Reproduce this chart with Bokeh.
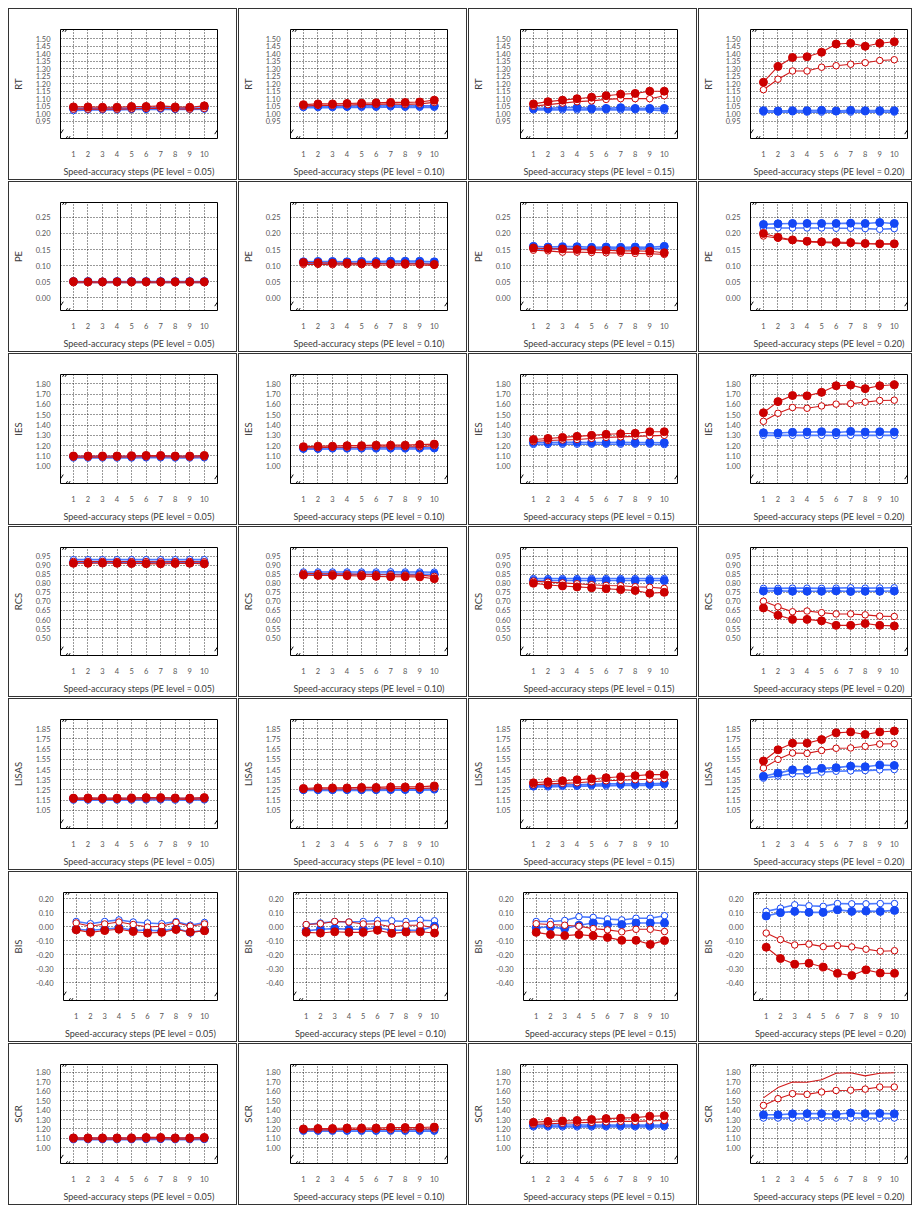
from bokeh.plotting import figure
from bokeh.layouts import row, column
from bokeh.models import FixedTicker, PrintfTickFormatter, Range1d, Arrow
from bokeh.embed import file_html
from bokeh.resources import INLINE

STEPS = [1, 2, 3, 4, 5, 6, 7, 8, 9, 10]
PE_LEVELS = ["0.05", "0.10", "0.15", "0.20"]
METRICS = ["RT", "PE", "IES", "RCS", "LISAS", "BIS", "SCR"]

# ---- data: each list holds the four PE-level panels (0.05, 0.10, 0.15, 0.20) ----
# BF = blue filled, BO = blue open, RF = red filled, RO = red open
RT_BF = [[1.035, 1.035, 1.035, 1.035, 1.037, 1.037, 1.040, 1.037, 1.037, 1.037],
         [1.050, 1.050, 1.050, 1.050, 1.052, 1.052, 1.055, 1.052, 1.052, 1.052],
         [1.035, 1.035, 1.040, 1.040, 1.035, 1.035, 1.040, 1.035, 1.035, 1.035],
         [1.020, 1.018, 1.020, 1.020, 1.022, 1.018, 1.022, 1.020, 1.020, 1.020]]
RT_BO = [[1.020, 1.025, 1.025, 1.025, 1.028, 1.028, 1.030, 1.028, 1.028, 1.030],
         [1.040, 1.040, 1.040, 1.042, 1.042, 1.042, 1.045, 1.042, 1.042, 1.042],
         [1.025, 1.025, 1.025, 1.025, 1.025, 1.025, 1.025, 1.025, 1.025, 1.020],
         [1.010, 1.010, 1.012, 1.010, 1.010, 1.012, 1.010, 1.012, 1.010, 1.010]]
RT_RF = [[1.045, 1.045, 1.043, 1.043, 1.047, 1.048, 1.052, 1.045, 1.043, 1.052],
         [1.060, 1.065, 1.065, 1.068, 1.070, 1.072, 1.075, 1.075, 1.078, 1.090],
         [1.065, 1.080, 1.090, 1.100, 1.110, 1.120, 1.130, 1.135, 1.150, 1.150],
         [1.210, 1.315, 1.375, 1.380, 1.410, 1.465, 1.470, 1.450, 1.470, 1.480]]
RT_RO = [[1.030, 1.030, 1.030, 1.030, 1.032, 1.035, 1.037, 1.032, 1.030, 1.035],
         [1.050, 1.055, 1.055, 1.058, 1.060, 1.062, 1.065, 1.062, 1.065, 1.075],
         [1.050, 1.060, 1.070, 1.080, 1.085, 1.095, 1.100, 1.100, 1.100, 1.120],
         [1.160, 1.230, 1.285, 1.285, 1.310, 1.320, 1.330, 1.340, 1.355, 1.360]]

PE_BF = [[0.051, 0.051, 0.050, 0.051, 0.051, 0.051, 0.051, 0.051, 0.051, 0.051],
         [0.112, 0.113, 0.113, 0.112, 0.113, 0.113, 0.114, 0.114, 0.114, 0.112],
         [0.160, 0.158, 0.159, 0.159, 0.157, 0.158, 0.157, 0.158, 0.157, 0.160],
         [0.228, 0.230, 0.231, 0.231, 0.231, 0.231, 0.232, 0.231, 0.234, 0.231]]
PE_BO = [[0.048, 0.048, 0.048, 0.048, 0.048, 0.048, 0.048, 0.048, 0.048, 0.048],
         [0.107, 0.107, 0.108, 0.107, 0.108, 0.108, 0.108, 0.108, 0.108, 0.107],
         [0.152, 0.152, 0.153, 0.152, 0.152, 0.152, 0.152, 0.152, 0.152, 0.153],
         [0.217, 0.217, 0.217, 0.217, 0.217, 0.216, 0.216, 0.215, 0.213, 0.215]]
PE_RF = [[0.051, 0.050, 0.050, 0.050, 0.050, 0.050, 0.050, 0.050, 0.050, 0.050],
         [0.110, 0.109, 0.108, 0.108, 0.107, 0.107, 0.106, 0.106, 0.106, 0.104],
         [0.155, 0.153, 0.152, 0.150, 0.149, 0.148, 0.146, 0.146, 0.145, 0.140],
         [0.200, 0.188, 0.180, 0.176, 0.174, 0.173, 0.172, 0.169, 0.168, 0.168]]
PE_RO = [[0.047, 0.047, 0.047, 0.047, 0.047, 0.047, 0.047, 0.047, 0.047, 0.047],
         [0.104, 0.104, 0.103, 0.103, 0.103, 0.102, 0.102, 0.102, 0.102, 0.101],
         [0.148, 0.146, 0.142, 0.142, 0.141, 0.140, 0.139, 0.138, 0.137, 0.135],
         [0.192, 0.185, 0.178, 0.174, 0.172, 0.170, 0.169, 0.168, 0.167, 0.167]]

IES_BF = [[1.095, 1.095, 1.095, 1.095, 1.095, 1.097, 1.097, 1.095, 1.095, 1.097],
          [1.175, 1.175, 1.180, 1.180, 1.180, 1.180, 1.180, 1.180, 1.180, 1.180],
          [1.230, 1.230, 1.232, 1.232, 1.230, 1.230, 1.232, 1.230, 1.230, 1.228],
          [1.325, 1.322, 1.330, 1.332, 1.335, 1.328, 1.338, 1.332, 1.335, 1.332]]
IES_BO = [[1.080, 1.080, 1.080, 1.080, 1.080, 1.082, 1.082, 1.080, 1.080, 1.082],
          [1.165, 1.165, 1.168, 1.168, 1.168, 1.168, 1.168, 1.168, 1.168, 1.170],
          [1.212, 1.212, 1.214, 1.214, 1.214, 1.214, 1.214, 1.214, 1.214, 1.210],
          [1.300, 1.300, 1.300, 1.300, 1.300, 1.298, 1.300, 1.300, 1.300, 1.300]]
IES_RF = [[1.100, 1.100, 1.100, 1.100, 1.102, 1.105, 1.105, 1.100, 1.100, 1.105],
          [1.190, 1.195, 1.195, 1.200, 1.200, 1.205, 1.205, 1.205, 1.210, 1.215],
          [1.260, 1.270, 1.280, 1.290, 1.300, 1.310, 1.315, 1.320, 1.335, 1.335],
          [1.519, 1.627, 1.686, 1.683, 1.717, 1.781, 1.787, 1.753, 1.781, 1.790]]
IES_RO = [[1.088, 1.088, 1.088, 1.088, 1.090, 1.092, 1.092, 1.090, 1.088, 1.092],
          [1.180, 1.180, 1.185, 1.185, 1.185, 1.190, 1.190, 1.190, 1.190, 1.200],
          [1.240, 1.250, 1.255, 1.260, 1.270, 1.280, 1.285, 1.290, 1.295, 1.300],
          [1.436, 1.514, 1.570, 1.563, 1.585, 1.603, 1.607, 1.622, 1.638, 1.641]]

RCS_BF = [[0.915, 0.915, 0.915, 0.915, 0.914, 0.914, 0.914, 0.915, 0.915, 0.914],
          [0.850, 0.850, 0.850, 0.850, 0.850, 0.849, 0.849, 0.850, 0.850, 0.849],
          [0.815, 0.815, 0.815, 0.815, 0.815, 0.815, 0.815, 0.815, 0.815, 0.815],
          [0.757, 0.758, 0.756, 0.756, 0.756, 0.758, 0.755, 0.756, 0.756, 0.757]]
RCS_BO = [[0.930, 0.930, 0.930, 0.930, 0.930, 0.930, 0.930, 0.930, 0.931, 0.930],
          [0.862, 0.862, 0.862, 0.862, 0.862, 0.862, 0.863, 0.862, 0.862, 0.861],
          [0.826, 0.826, 0.826, 0.826, 0.826, 0.826, 0.826, 0.826, 0.826, 0.826],
          [0.772, 0.772, 0.773, 0.773, 0.772, 0.773, 0.775, 0.773, 0.774, 0.775]]
RCS_RF = [[0.910, 0.910, 0.911, 0.910, 0.909, 0.908, 0.907, 0.909, 0.910, 0.907],
          [0.845, 0.843, 0.843, 0.842, 0.840, 0.838, 0.836, 0.836, 0.835, 0.825],
          [0.800, 0.790, 0.785, 0.780, 0.775, 0.770, 0.765, 0.760, 0.745, 0.750],
          [0.664, 0.624, 0.601, 0.601, 0.593, 0.568, 0.568, 0.578, 0.568, 0.565]]
RCS_RO = [[0.920, 0.920, 0.920, 0.920, 0.919, 0.919, 0.918, 0.919, 0.920, 0.918],
          [0.855, 0.853, 0.852, 0.851, 0.850, 0.848, 0.847, 0.845, 0.845, 0.838],
          [0.812, 0.806, 0.802, 0.797, 0.792, 0.788, 0.786, 0.781, 0.778, 0.772],
          [0.701, 0.670, 0.643, 0.647, 0.638, 0.631, 0.631, 0.626, 0.619, 0.617]]

LISAS_BF = [[1.165, 1.165, 1.165, 1.165, 1.165, 1.167, 1.167, 1.165, 1.165, 1.167],
            [1.255, 1.255, 1.255, 1.255, 1.255, 1.255, 1.256, 1.256, 1.256, 1.262],
            [1.290, 1.295, 1.300, 1.300, 1.305, 1.310, 1.310, 1.310, 1.310, 1.315],
            [1.384, 1.415, 1.447, 1.450, 1.462, 1.469, 1.484, 1.478, 1.494, 1.490]]
LISAS_BO = [[1.150, 1.150, 1.150, 1.150, 1.150, 1.152, 1.152, 1.150, 1.150, 1.152],
            [1.245, 1.245, 1.246, 1.246, 1.246, 1.246, 1.247, 1.247, 1.247, 1.250],
            [1.280, 1.280, 1.285, 1.285, 1.290, 1.290, 1.295, 1.295, 1.295, 1.300],
            [1.366, 1.387, 1.409, 1.409, 1.425, 1.434, 1.437, 1.440, 1.447, 1.450]]
LISAS_RF = [[1.170, 1.172, 1.170, 1.170, 1.172, 1.175, 1.175, 1.172, 1.170, 1.175],
            [1.265, 1.270, 1.270, 1.270, 1.275, 1.275, 1.280, 1.280, 1.280, 1.290],
            [1.320, 1.330, 1.340, 1.350, 1.360, 1.370, 1.380, 1.390, 1.400, 1.400],
            [1.534, 1.644, 1.709, 1.709, 1.744, 1.810, 1.819, 1.794, 1.819, 1.828]]
LISAS_RO = [[1.158, 1.158, 1.158, 1.158, 1.160, 1.162, 1.162, 1.160, 1.158, 1.162],
            [1.255, 1.260, 1.260, 1.260, 1.260, 1.260, 1.265, 1.265, 1.265, 1.270],
            [1.300, 1.310, 1.315, 1.320, 1.330, 1.340, 1.345, 1.350, 1.355, 1.360],
            [1.465, 1.550, 1.612, 1.609, 1.637, 1.659, 1.662, 1.678, 1.700, 1.703]]

BIS_BF = [[-0.018, -0.025, -0.018, -0.007, -0.025, -0.025, -0.029, -0.013, -0.040, -0.025],
          [-0.029, -0.018, -0.013, -0.018, -0.018, -0.007, -0.025, -0.025, -0.025, 0.004],
          [-0.007, -0.002, -0.013, 0.011, 0.027, 0.016, 0.016, 0.027, 0.027, 0.027],
          [0.077, 0.101, 0.110, 0.103, 0.103, 0.121, 0.110, 0.112, 0.110, 0.117]]
BIS_BO = [[0.038, 0.022, 0.038, 0.049, 0.034, 0.027, 0.022, 0.038, 0.011, 0.031],
          [0.016, 0.027, 0.038, 0.034, 0.038, 0.045, 0.043, 0.038, 0.047, 0.043],
          [0.038, 0.038, 0.045, 0.072, 0.067, 0.056, 0.049, 0.061, 0.061, 0.079],
          [0.110, 0.133, 0.157, 0.150, 0.146, 0.166, 0.164, 0.164, 0.166, 0.166]]
BIS_RF = [[-0.022, -0.040, -0.027, -0.018, -0.034, -0.045, -0.040, -0.020, -0.038, -0.029],
          [-0.040, -0.045, -0.036, -0.040, -0.040, -0.025, -0.047, -0.038, -0.036, -0.045],
          [-0.040, -0.056, -0.063, -0.056, -0.065, -0.076, -0.097, -0.097, -0.126, -0.099],
          [-0.146, -0.227, -0.267, -0.261, -0.288, -0.333, -0.348, -0.308, -0.331, -0.333]]
BIS_RO = [[0.027, 0.004, 0.020, 0.034, 0.016, -0.002, 0.004, 0.031, 0.004, 0.020],
          [0.016, 0.022, 0.038, 0.034, 0.020, 0.020, -0.002, 0.011, 0.011, -0.007],
          [0.022, 0.016, 0.011, 0.004, -0.013, -0.022, -0.036, -0.018, -0.018, -0.034],
          [-0.045, -0.092, -0.130, -0.124, -0.142, -0.135, -0.144, -0.160, -0.175, -0.171]]

SCR_BF = [[1.100, 1.100, 1.100, 1.100, 1.100, 1.102, 1.102, 1.100, 1.100, 1.102],
          [1.190, 1.190, 1.190, 1.190, 1.190, 1.190, 1.191, 1.190, 1.190, 1.190],
          [1.240, 1.240, 1.241, 1.241, 1.240, 1.240, 1.241, 1.240, 1.240, 1.240],
          [1.350, 1.350, 1.360, 1.362, 1.362, 1.356, 1.369, 1.362, 1.365, 1.360]]
SCR_BO = [[1.085, 1.085, 1.085, 1.085, 1.085, 1.087, 1.087, 1.085, 1.085, 1.087],
          [1.175, 1.175, 1.175, 1.175, 1.175, 1.175, 1.176, 1.175, 1.175, 1.175],
          [1.222, 1.222, 1.222, 1.222, 1.222, 1.222, 1.222, 1.222, 1.222, 1.222],
          [1.316, 1.316, 1.316, 1.316, 1.318, 1.316, 1.316, 1.316, 1.313, 1.316]]
SCR_RF = [[1.105, 1.105, 1.105, 1.105, 1.105, 1.110, 1.110, 1.105, 1.105, 1.110],
          [1.200, 1.205, 1.205, 1.210, 1.210, 1.210, 1.215, 1.215, 1.215, 1.220],
          [1.270, 1.280, 1.285, 1.290, 1.300, 1.310, 1.315, 1.320, 1.335, 1.340],
          [1.530, 1.639, 1.698, 1.695, 1.722, 1.791, 1.797, 1.763, 1.791, 1.797]]
SCR_RO = [[1.092, 1.092, 1.092, 1.092, 1.092, 1.095, 1.095, 1.092, 1.092, 1.095],
          [1.190, 1.190, 1.190, 1.195, 1.195, 1.195, 1.195, 1.195, 1.200, 1.200],
          [1.250, 1.255, 1.260, 1.265, 1.270, 1.275, 1.280, 1.280, 1.285, 1.290],
          [1.450, 1.521, 1.574, 1.567, 1.592, 1.608, 1.611, 1.623, 1.645, 1.645]]

# draw order: blue open, blue filled, red open, red filled
SERIES = {
    "RT": (RT_BO, RT_BF, RT_RO, RT_RF),
    "PE": (PE_BO, PE_BF, PE_RO, PE_RF),
    "IES": (IES_BO, IES_BF, IES_RO, IES_RF),
    "RCS": (RCS_BO, RCS_BF, RCS_RO, RCS_RF),
    "LISAS": (LISAS_BO, LISAS_BF, LISAS_RO, LISAS_RF),
    "BIS": (BIS_BO, BIS_BF, BIS_RO, BIS_RF),
    "SCR": (SCR_BO, SCR_BF, SCR_RO, SCR_RF),
}
# panels whose red-filled series is drawn as a bare line (no markers)
NO_MARKERS = {("SCR", 3, 3)}

Y_TICKS = {
    "RT": [0.95, 1.00, 1.05, 1.10, 1.15, 1.20, 1.25, 1.30, 1.35, 1.40, 1.45, 1.50],
    "PE": [0.00, 0.05, 0.10, 0.15, 0.20, 0.25],
    "IES": [1.00, 1.10, 1.20, 1.30, 1.40, 1.50, 1.60, 1.70, 1.80],
    "RCS": [0.50, 0.55, 0.60, 0.65, 0.70, 0.75, 0.80, 0.85, 0.90, 0.95],
    "LISAS": [1.05, 1.15, 1.25, 1.35, 1.45, 1.55, 1.65, 1.75, 1.85],
    "BIS": [-0.40, -0.30, -0.20, -0.10, 0.00, 0.10, 0.20],
    "SCR": [1.00, 1.10, 1.20, 1.30, 1.40, 1.50, 1.60, 1.70, 1.80],
}
Y_LIMITS = {
    "RT": (0.834, 1.562),
    "PE": (-0.039, 0.296),
    "IES": (0.833, 1.890),
    "RCS": (0.402, 0.997),
    "LISAS": (0.872, 1.941),
    "BIS": (-0.527, 0.245),
    "SCR": (0.833, 1.884),
}
X_LIMITS = (0.11, 10.91)

BLUE = "#1447f5"
BLUE_LINE = "#4d7bff"
RED = "#cc0000"
RED_LINE = "#d11a1a"
FONT = "Lato"

COL_W = [227, 227, 227, 212]
ROW_H = [170, 169, 170, 169, 170, 169, 160]
LEFT, TOP = 46, 20
FRAME_W, FRAME_H = 162, 115
PAGE_OFFSET = 8


def add_breaks(p, fw, fh, y0, y1):
    x0, x1 = X_LIMITS
    sx = (x1 - x0) / fw
    sy = (y1 - y0) / fh
    spots = [(x0 + 5 * sx, y1), (x0, y0 + 7 * sy), (x0 + 7 * sx, y0), (x1, y0 + 7 * sy)]
    for bx, by in spots:
        for off in (-1.3, 1.3):
            p.add_layout(Arrow(end=None, x_start=bx + (off - 1.6) * sx, y_start=by - 2.4 * sy,
                               x_end=bx + (off + 1.6) * sx, y_end=by + 2.4 * sy,
                               line_color="black", line_width=1))


def make_panel(mi, ci):
    m = METRICS[mi]
    w, h = COL_W[ci], ROW_H[mi]
    bottom = h - TOP - FRAME_H if mi < 6 else 32
    fh = h - TOP - bottom
    right = w - LEFT - FRAME_W
    y0, y1 = Y_LIMITS[m]
    mtop = 1 + (PAGE_OFFSET if mi == 0 else 0)
    mleft = 1 + (PAGE_OFFSET if ci == 0 else 0)
    p = figure(width=w, height=h, output_backend="svg", toolbar_location=None,
               x_range=Range1d(*X_LIMITS), y_range=Range1d(y0, y1),
               min_border_left=LEFT, min_border_right=right,
               min_border_top=TOP, min_border_bottom=bottom,
               margin=(mtop, 2, 2, mleft), styles={"outline": "1px solid #333"})
    p.background_fill_color = "white"
    p.border_fill_color = "white"
    p.outline_line_color = "black"
    p.outline_line_width = 1

    p.xaxis.ticker = FixedTicker(ticks=STEPS)
    p.yaxis.ticker = FixedTicker(ticks=Y_TICKS[m])
    p.yaxis.formatter = PrintfTickFormatter(format="%.2f")
    p.xaxis.axis_label = "Speed-accuracy steps (PE level = %s)" % PE_LEVELS[ci]
    p.yaxis.axis_label = m
    for ax in (p.xaxis[0], p.yaxis[0]):
        ax.axis_line_color = None
        ax.major_tick_line_color = None
        ax.minor_tick_line_color = None
        ax.major_label_text_font = FONT
        ax.major_label_text_font_size = "7.5px"
        ax.major_label_text_color = "#555555"
        ax.axis_label_text_font = FONT
        ax.axis_label_text_font_size = "9px"
        ax.axis_label_text_font_style = "normal"
        ax.axis_label_text_color = "#3a3a3a"
    p.yaxis.axis_label_text_font_size = "9.5px"
    p.xaxis.major_label_standoff = 6
    p.xaxis.axis_label_standoff = 6
    p.yaxis.major_label_standoff = 4
    p.yaxis.axis_label_standoff = 9

    for g in (p.xgrid[0], p.ygrid[0]):
        g.grid_line_color = "black"
        g.grid_line_dash = "1 2"
        g.grid_line_alpha = 0.8
        g.grid_line_width = 1

    for si, vals in enumerate(SERIES[m]):
        ys = vals[ci]
        is_blue = si < 2
        filled = si % 2 == 1
        col = BLUE if is_blue else RED
        p.line(STEPS, ys, line_color=BLUE_LINE if is_blue else RED_LINE,
               line_width=1.6 if is_blue else 1.1)
        if (m, ci, si) in NO_MARKERS:
            continue
        if filled:
            p.scatter(STEPS, ys, size=8, fill_color=col, line_color=col, line_width=1)
        else:
            p.scatter(STEPS, ys, size=6.5, fill_color="white", line_color=col, line_width=1)

    add_breaks(p, FRAME_W, fh, y0, y1)
    return p


rows = [row(*[make_panel(mi, ci) for ci in range(4)]) for mi in range(len(METRICS))]
root = column(*rows)

open("out.html", "w").write(file_html(root, INLINE, title="Speed-accuracy panels"))
